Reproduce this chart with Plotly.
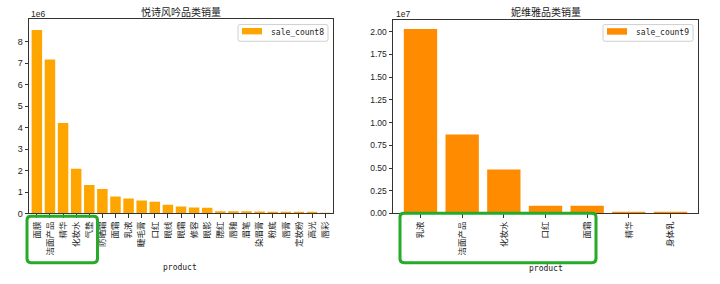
import plotly.graph_objects as go

W, H = 720, 284

# ---------------- data ----------------
products_left = ["面膜", "洁面产品", "精华", "化妆水", "气垫", "防晒霜", "面霜", "乳液",
                 "睫毛膏", "口红", "眼线", "眼霜", "修容", "眼影", "腮红", "唇釉",
                 "眉笔", "染眉膏", "粉底", "唇膏", "定妆粉", "高光", "唇彩"]
sales_left = [8.55e6, 7.18e6, 4.22e6, 2.08e6, 1.33e6, 1.14e6, 0.79e6, 0.70e6,
              0.60e6, 0.55e6, 0.41e6, 0.32e6, 0.28e6, 0.27e6, 0.10e6, 0.10e6,
              0.10e6, 0.09e6, 0.06e6, 0.05e6, 0.05e6, 0.05e6, 0.005e6]

products_right = ["乳液", "洁面产品", "化妆水", "口红", "面霜", "精华", "身体乳"]
sales_right = [2.03e7, 0.87e7, 0.484e7, 0.085e7, 0.085e7, 0.015e7, 0.015e7]

left_ticks = [0, 1, 2, 3, 4, 5, 6, 7, 8]
right_ticks = [0.0, 0.25, 0.5, 0.75, 1.0, 1.25, 1.5, 1.75, 2.0]

title_left = "悦诗风吟品类销量"
title_right = "妮维雅品类销量"
legend_left = "sale_count8"
legend_right = "sale_count9"

COL_L = "#FFA500"
COL_R = "#FF8C00"
GREEN = "#25AA2A"
AX = "#333333"
CJK = "Noto Sans CJK SC"
MONO = "DejaVu Sans Mono"


def px(x):
    return x / W


def py(y):
    return 1 - y / H


# axes boxes in pixels
L_X0, L_X1, L_Y0, L_Y1 = 29, 333, 19, 217.3
R_X0, R_X1, R_Y0, R_Y1 = 393, 698, 20, 217.3

fig = go.Figure()
fig.add_trace(go.Bar(x=products_left, y=sales_left, marker_color=COL_L,
                     marker_line_width=0, xaxis="x", yaxis="y", showlegend=False))
fig.add_trace(go.Bar(x=products_right, y=sales_right, marker_color=COL_R,
                     marker_line_width=0, xaxis="x2", yaxis="y2", showlegend=False))

axis_common = dict(showline=True, mirror=True, linecolor=AX, linewidth=1,
                   ticks="outside", ticklen=3.5, tickwidth=1, tickcolor=AX,
                   showgrid=False, zeroline=False)

fig.update_layout(
    width=W, height=H, margin=dict(l=0, r=0, t=0, b=0),
    plot_bgcolor="white", paper_bgcolor="white", bargap=0.2,
    xaxis=dict(domain=[px(L_X0), px(L_X1)], anchor="y", type="category",
               range=[-0.6, len(products_left) - 0.4], tickangle=-90,
               tickfont=dict(family=CJK, size=8.5, color="#222"), **axis_common),
    yaxis=dict(domain=[py(L_Y1), py(L_Y0)], anchor="x",
               range=[0, 9.08e6],
               tickvals=[v * 1e6 for v in left_ticks],
               ticktext=[str(v) for v in left_ticks],
               tickfont=dict(family="Liberation Sans", size=9, color="#222"),
               **axis_common),
    xaxis2=dict(domain=[px(R_X0), px(R_X1)], anchor="y2", type="category",
                range=[-0.66, len(products_right) - 0.34], tickangle=-90,
                tickfont=dict(family=CJK, size=8.5, color="#222"), **axis_common),
    yaxis2=dict(domain=[py(R_Y1), py(R_Y0)], anchor="x2",
                range=[0, 2.133e7],
                tickvals=[v * 1e7 for v in right_ticks],
                ticktext=[f"{v:.2f}" for v in right_ticks],
                tickfont=dict(family="Liberation Sans", size=8.5, color="#222"),
                **axis_common),
)

ann = []
# titles
ann.append(dict(x=px((L_X0 + L_X1) / 2), y=py(12), text=title_left,
                font=dict(family=CJK, size=10, color="#222")))
ann.append(dict(x=px((R_X0 + R_X1) / 2), y=py(12), text=title_right,
                font=dict(family=CJK, size=10, color="#222")))
# offset texts
ann.append(dict(x=px(29), y=py(14), text="1e6", xanchor="left",
                font=dict(family="Liberation Sans", size=8.5, color="#222")))
ann.append(dict(x=px(394), y=py(14), text="1e7", xanchor="left",
                font=dict(family="Liberation Sans", size=8.5, color="#222")))
# x labels
ann.append(dict(x=px(180), y=py(272), text="product",
                font=dict(family=MONO, size=8, color="#222")))
ann.append(dict(x=px(546), y=py(273), text="product",
                font=dict(family=MONO, size=8, color="#222")))
# legend texts
ann.append(dict(x=px(269), y=py(33), text=legend_left, xanchor="left",
                font=dict(family=MONO, size=8, color="#222")))
ann.append(dict(x=px(634), y=py(33), text=legend_right, xanchor="left",
                font=dict(family=MONO, size=8, color="#222")))
for a in ann:
    a.update(xref="paper", yref="paper", showarrow=False, yanchor="middle")
    a.setdefault("xanchor", "center")
fig.update_layout(annotations=ann)


def rounded_rect(x0, y0, x1, y1, r):
    # pixel coords -> paper path with rounded corners
    pts = []
    def P(x, y):
        return f"{px(x):.5f},{py(y):.5f}"
    path = (f"M {P(x0 + r, y0)} L {P(x1 - r, y0)} Q {P(x1, y0)} {P(x1, y0 + r)} "
            f"L {P(x1, y1 - r)} Q {P(x1, y1)} {P(x1 - r, y1)} "
            f"L {P(x0 + r, y1)} Q {P(x0, y1)} {P(x0, y1 - r)} "
            f"L {P(x0, y0 + r)} Q {P(x0, y0)} {P(x0 + r, y0)} Z")
    return path


shapes = []
# legends
shapes.append(dict(type="path", path=rounded_rect(238, 25, 328, 42, 2),
                   line=dict(color="#d0d0d0", width=1), fillcolor="white"))
shapes.append(dict(type="rect", x0=px(242), x1=px(262), y0=py(35), y1=py(28.5),
                   line=dict(width=0), fillcolor=COL_L))
shapes.append(dict(type="path", path=rounded_rect(603, 25, 693, 42, 2),
                   line=dict(color="#d0d0d0", width=1), fillcolor="white"))
shapes.append(dict(type="rect", x0=px(607), x1=px(627), y0=py(35.3), y1=py(28.7),
                   line=dict(width=0), fillcolor=COL_R))
# green highlight boxes
shapes.append(dict(type="path", path=rounded_rect(27, 220, 97.5, 267.5, 4),
                   line=dict(color=GREEN, width=3)))
shapes.append(dict(type="path", path=rounded_rect(400, 217, 596, 267.5, 4),
                   line=dict(color=GREEN, width=3)))
for s in shapes:
    s.update(xref="paper", yref="paper")
fig.update_layout(shapes=shapes)

fig.write_html("out.html")
